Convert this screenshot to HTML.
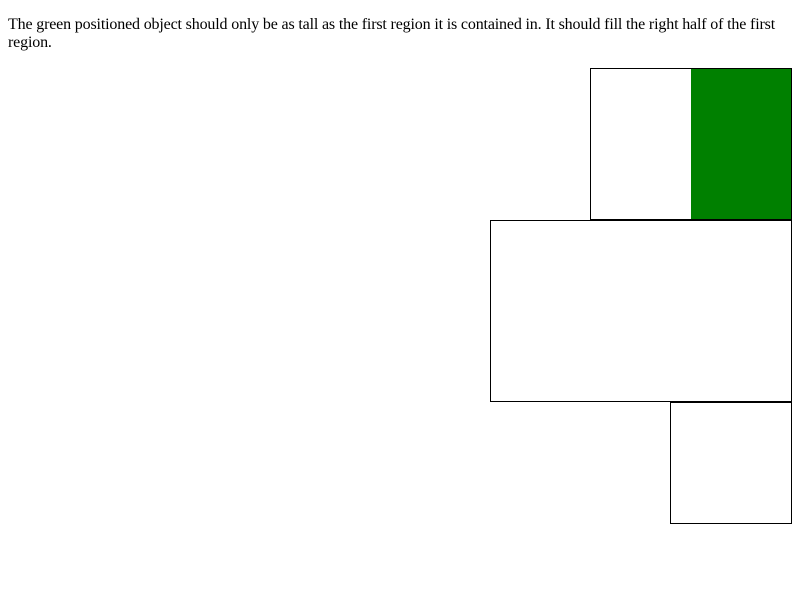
<!DOCTYPE html>
<html><head><style>
body{margin:0;background:#fff;font-family:"Liberation Serif",serif;font-size:16px;}
p{position:absolute;left:8px;top:16px;margin:0;width:784px;line-height:18px;letter-spacing:-0.16px;white-space:nowrap;}
.b{position:absolute;box-sizing:border-box;border:1px solid #000;}
</style></head><body>
<p>The green positioned object should only be as tall as the first region it is contained in. It should fill the right half of the first<br>region.</p>
<div class="b" style="left:590px;top:68px;width:202px;height:152px;"></div>
<div style="position:absolute;left:691px;top:69px;width:100px;height:150px;background:#008000;"></div>
<div class="b" style="left:490px;top:220px;width:302px;height:182px;"></div>
<div class="b" style="left:670px;top:402px;width:122px;height:122px;"></div>
</body></html>
